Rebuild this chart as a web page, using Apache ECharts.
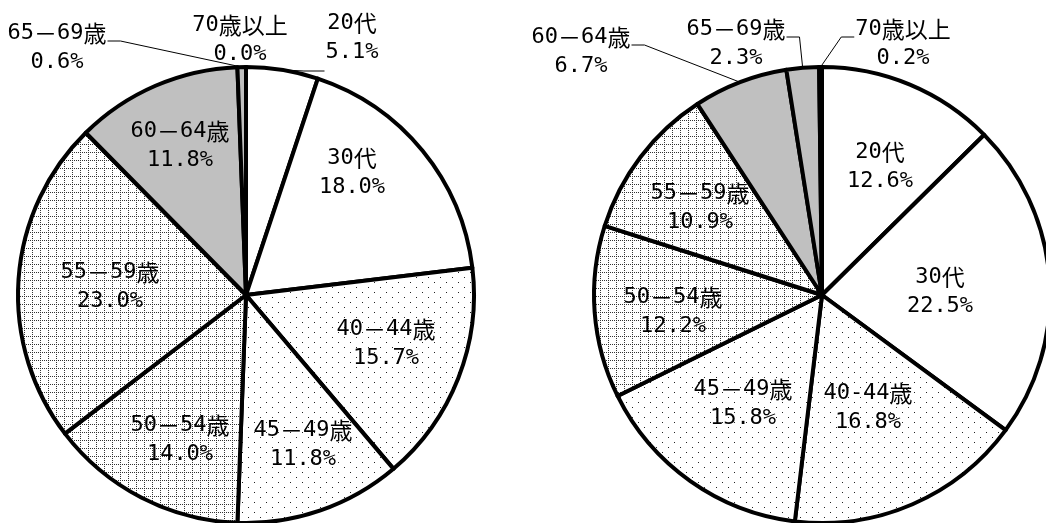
<!DOCTYPE html>
<html>
<head>
<meta charset="utf-8">
<script src="https://cdn.jsdelivr.net/npm/echarts@6/dist/echarts.min.js"></script>
<style>
html,body{margin:0;padding:0;background:#fff;}
#chart{width:1046px;height:523px;}
</style>
</head>
<body>
<div id="chart"></div>
<script>
// ---- data ----
const leftNames  = ['20代','30代','40－44歳','45－49歳','50－54歳','55－59歳','60－64歳','65－69歳','70歳以上'];
const leftValues = [5.1, 18.0, 15.7, 11.8, 14.0, 23.0, 11.8, 0.6, 0.0];
const rightNames  = ['20代','30代','40-44歳','45－49歳','50－54歳','55－59歳','60－64歳','65－69歳','70歳以上'];
const rightValues = [12.6, 22.5, 16.8, 15.8, 12.2, 10.9, 6.7, 2.3, 0.2];

// ---- label placement (pixel centres of the two-line label blocks) ----
const leftLabelPos  = [[352,38],[352,173],[386,344],[303,445],[180,440],[110,287],[180,146],[57,48],[240,40]];
const rightLabelPos = [[880,167],[940,292],[868,408],[743,404],[673,312],[700,208],[581,52],[736,44],[903,44]];
const leftOutside  = [true,false,false,false,false,false,false,true,true];
const rightOutside = [false,false,false,false,false,false,true,true,true];

// ---- fills ----
function dotPattern(){
  const c=document.createElement('canvas'); c.width=12; c.height=10;
  const g=c.getContext('2d'); g.fillStyle='#fff'; g.fillRect(0,0,12,10);
  g.fillStyle='#222'; g.fillRect(2,2,1,1); g.fillRect(8,7,1,1);
  return {image:c, repeat:'repeat'};
}
function gridPattern(){
  const c=document.createElement('canvas'); c.width=8; c.height=8;
  const g=c.getContext('2d'); g.fillStyle='#fff'; g.fillRect(0,0,8,8);
  g.fillStyle='#333';
  for(let i=0;i<8;i+=2){ g.fillRect(0,i,1,1); g.fillRect(i,0,1,1); }
  return {image:c, repeat:'repeat'};
}
const WHITE='#ffffff', GRAY='#c0c0c0';
const fills = [WHITE, WHITE, dotPattern(), dotPattern(), gridPattern(), gridPattern(), GRAY, GRAY, GRAY];

const LATIN = '"DejaVu Sans Mono", monospace';
const CJK = '"Noto Sans CJK JP", sans-serif';

function richText(s){
  let out='', cur=null, buf='';
  for(const ch of s){
    const t = ch.charCodeAt(0) > 0x2000 ? 'c' : 'a';
    if(t!==cur){ if(buf) out += '{'+cur+'|'+buf+'}'; buf=''; cur=t; }
    buf += ch;
  }
  if(buf) out += '{'+cur+'|'+buf+'}';
  return out;
}

function buildData(names, values, outside){
  return names.map((n,i)=>({
    name:n, value:values[i],
    itemStyle:{color:fills[i]},
    label:{position: outside[i]?'outside':'inside'},
    labelLine:{show: outside[i] && values[i] > 0}
  }));
}

let chart;
function makeSeries(si, names, values, outside, pos, center){
  return {
    type:'pie',
    center:center,
    radius:228,
    startAngle:90,
    clockwise:true,
    avoidLabelOverlap:false,
    animation:false,
    silent:true,
    itemStyle:{borderColor:'#000', borderWidth:4},
    label:{
      show:true, color:'#000', lineHeight:29,
      formatter:(p)=> richText(p.name) + '\n' + richText(p.value.toFixed(1) + '%'),
      rich:{
        a:{fontFamily:LATIN, fontSize:22, color:'#000', lineHeight:29},
        c:{fontFamily:CJK, fontSize:23, color:'#000', lineHeight:29}
      }
    },
    labelLine:{show:true, length:8, length2:10, lineStyle:{color:'#000', width:1}},
    labelLayout:(p)=>{
      const i = p.dataIndex;
      const cx = pos[i][0], cy = pos[i][1];
      const res = {x:cx, y:cy, align:'center', verticalAlign:'middle', hideOverlap:false};
      if(outside[i] && values[i] > 0 && chart){
        const lay = chart.getModel().getSeriesByIndex(si).getData().getItemLayout(i);
        const mid = (lay.startAngle + lay.endAngle)/2;
        const ex = lay.cx + lay.r*Math.cos(mid), ey = lay.cy + lay.r*Math.sin(mid);
        const w = p.labelRect.width, h = p.labelRect.height;
        const left = cx - w/2, right = cx + w/2, top = cy - h/2, bottom = cy + h/2;
        if(ey > bottom + 2 && ex < left && Math.abs(ex-left) < 60 && i===0){
          res.labelLinePoints = [[ex,ey],[(ex+left)/2, bottom+4],[left-1, bottom+4]];
        } else if(ex > right){
          const ly = top + 22;
          res.labelLinePoints = [[ex,ey],[right+14, ly],[right+1, ly]];
        } else {
          const ly = top + 22;
          res.labelLinePoints = [[ex,ey],[left-14, ly],[left-1, ly]];
        }
      }
      return res;
    },
    data: buildData(names, values, outside)
  };
}

chart = echarts.init(document.getElementById('chart'), null, {renderer:'canvas'});
chart.setOption({
  backgroundColor:'#fff',
  series:[
    makeSeries(0, leftNames, leftValues, leftOutside, leftLabelPos, [246,295]),
    makeSeries(1, rightNames, rightValues, rightOutside, rightLabelPos, [822,295])
  ]
});
</script>
</body>
</html>
